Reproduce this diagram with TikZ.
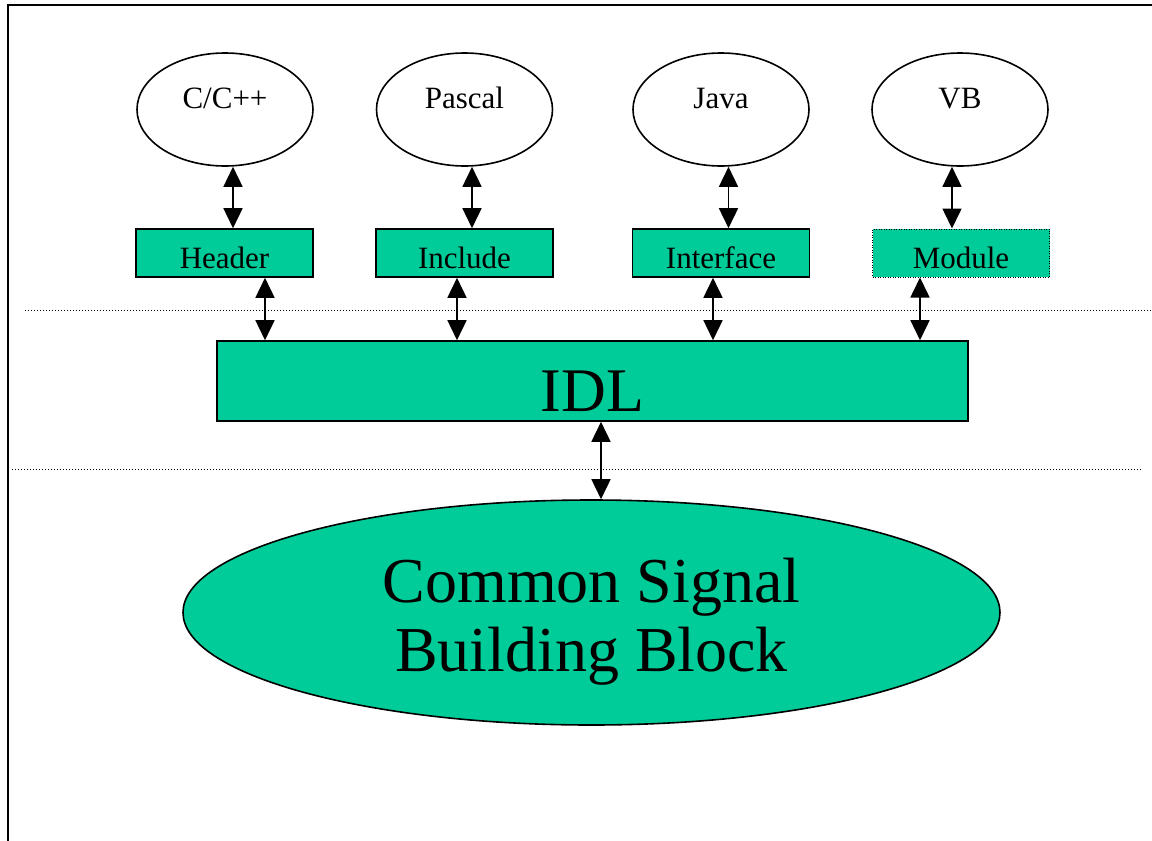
\documentclass[tikz,border=0pt]{standalone}
\usepackage{fontspec}
\setmainfont{Liberation Serif}
\usetikzlibrary{arrows.meta,shapes.geometric}
\definecolor{teal1}{RGB}{0,204,153}
\begin{document}
\begin{tikzpicture}[x=1pt,y=-1pt,
  lang/.style={ellipse,draw,line width=1.6pt,minimum width=176pt,minimum height=113pt,inner sep=0pt,
    font=\fontsize{31}{33}\selectfont,text height=21pt,text depth=24pt},
  mapbox/.style={rectangle,draw,line width=1.6pt,fill=teal1,minimum width=177pt,minimum height=48pt,inner sep=0pt,
    font=\fontsize{31}{33}\selectfont,text height=30pt,text depth=0pt},
  dotbox/.style={mapbox,line width=1pt,dash pattern=on 1pt off 1.5pt},
  biarrow/.style={line width=1.6pt,{Triangle[width=19pt,length=20pt]}-{Triangle[width=19pt,length=20pt]}},
  sepline/.style={line width=1pt,dash pattern=on 1pt off 2pt}]
\useasboundingbox (0,0) rectangle (1152,841);
% frame
\coordinate (ftl) at (8,5);
\coordinate (ftr) at (1152,5);
\coordinate (fbl) at (8,841);
\draw[line width=2pt] (ftr) -- (ftl) -- (fbl);
% separators
\coordinate (d1) at (25,310);
\coordinate (d2) at (1152,310);
\coordinate (e1) at (12,469);
\coordinate (e2) at (1142,469);
\draw[sepline] (d1) -- (d2);
\draw[sepline] (e1) -- (e2);
% languages
\node[lang] (cpp) at (225,109.5) {C/C++};
\node[lang] (pas) at (464.5,109.5) {Pascal};
\node[lang] (jav) at (721,109.5) {Java};
\node[lang] (vb) at (960,109.5) {VB};
% mappings
\node[mapbox] (hdr) at (224.5,253) {Header};
\node[mapbox] (inc) at (464.5,253) {Include};
\node[mapbox] (itf) at (721,253) {Interface};
\node[dotbox] (mod) at (961,253) {Module};
% IDL
\node[rectangle,draw,line width=1.6pt,fill=teal1,minimum width=751pt,minimum height=80pt,inner sep=0pt,
  font=\fontsize{62}{66}\selectfont,text height=60pt,text depth=0pt] (idl) at (592.5,381) {IDL};
% CSBB
\node[ellipse,draw,line width=1.6pt,fill=teal1,minimum width=817pt,minimum height=225pt,inner sep=0pt,
  label={[font=\fontsize{64}{69}\selectfont,align=center,yshift=-9pt]center:{Common Signal\\Building Block}}] (csbb) at (591.5,612.5) {};
% arrows
\coordinate (a1) at (233,0);
\coordinate (a2) at (472,0);
\coordinate (a3) at (728.5,0);
\coordinate (a4) at (952,0);
\draw[biarrow] (a1 |- cpp.south) -- (a1 |- hdr.north);
\draw[biarrow] (a2 |- pas.south) -- (a2 |- inc.north);
\draw[biarrow] (a3 |- jav.south) -- (a3 |- itf.north);
\draw[biarrow] (a4 |- vb.south) -- (a4 |- mod.north);
\coordinate (b1) at (265,0);
\coordinate (b2) at (457,0);
\coordinate (b3) at (713,0);
\coordinate (b4) at (920,0);
\draw[biarrow] (b1 |- hdr.south) -- (b1 |- idl.north);
\draw[biarrow] (b2 |- inc.south) -- (b2 |- idl.north);
\draw[biarrow] (b3 |- itf.south) -- (b3 |- idl.north);
\draw[biarrow] (b4 |- mod.south) -- (b4 |- idl.north);
\coordinate (c1) at (601,0);
\draw[biarrow] (c1 |- idl.south) -- (c1 |- csbb.north);
\end{tikzpicture}
\end{document}
